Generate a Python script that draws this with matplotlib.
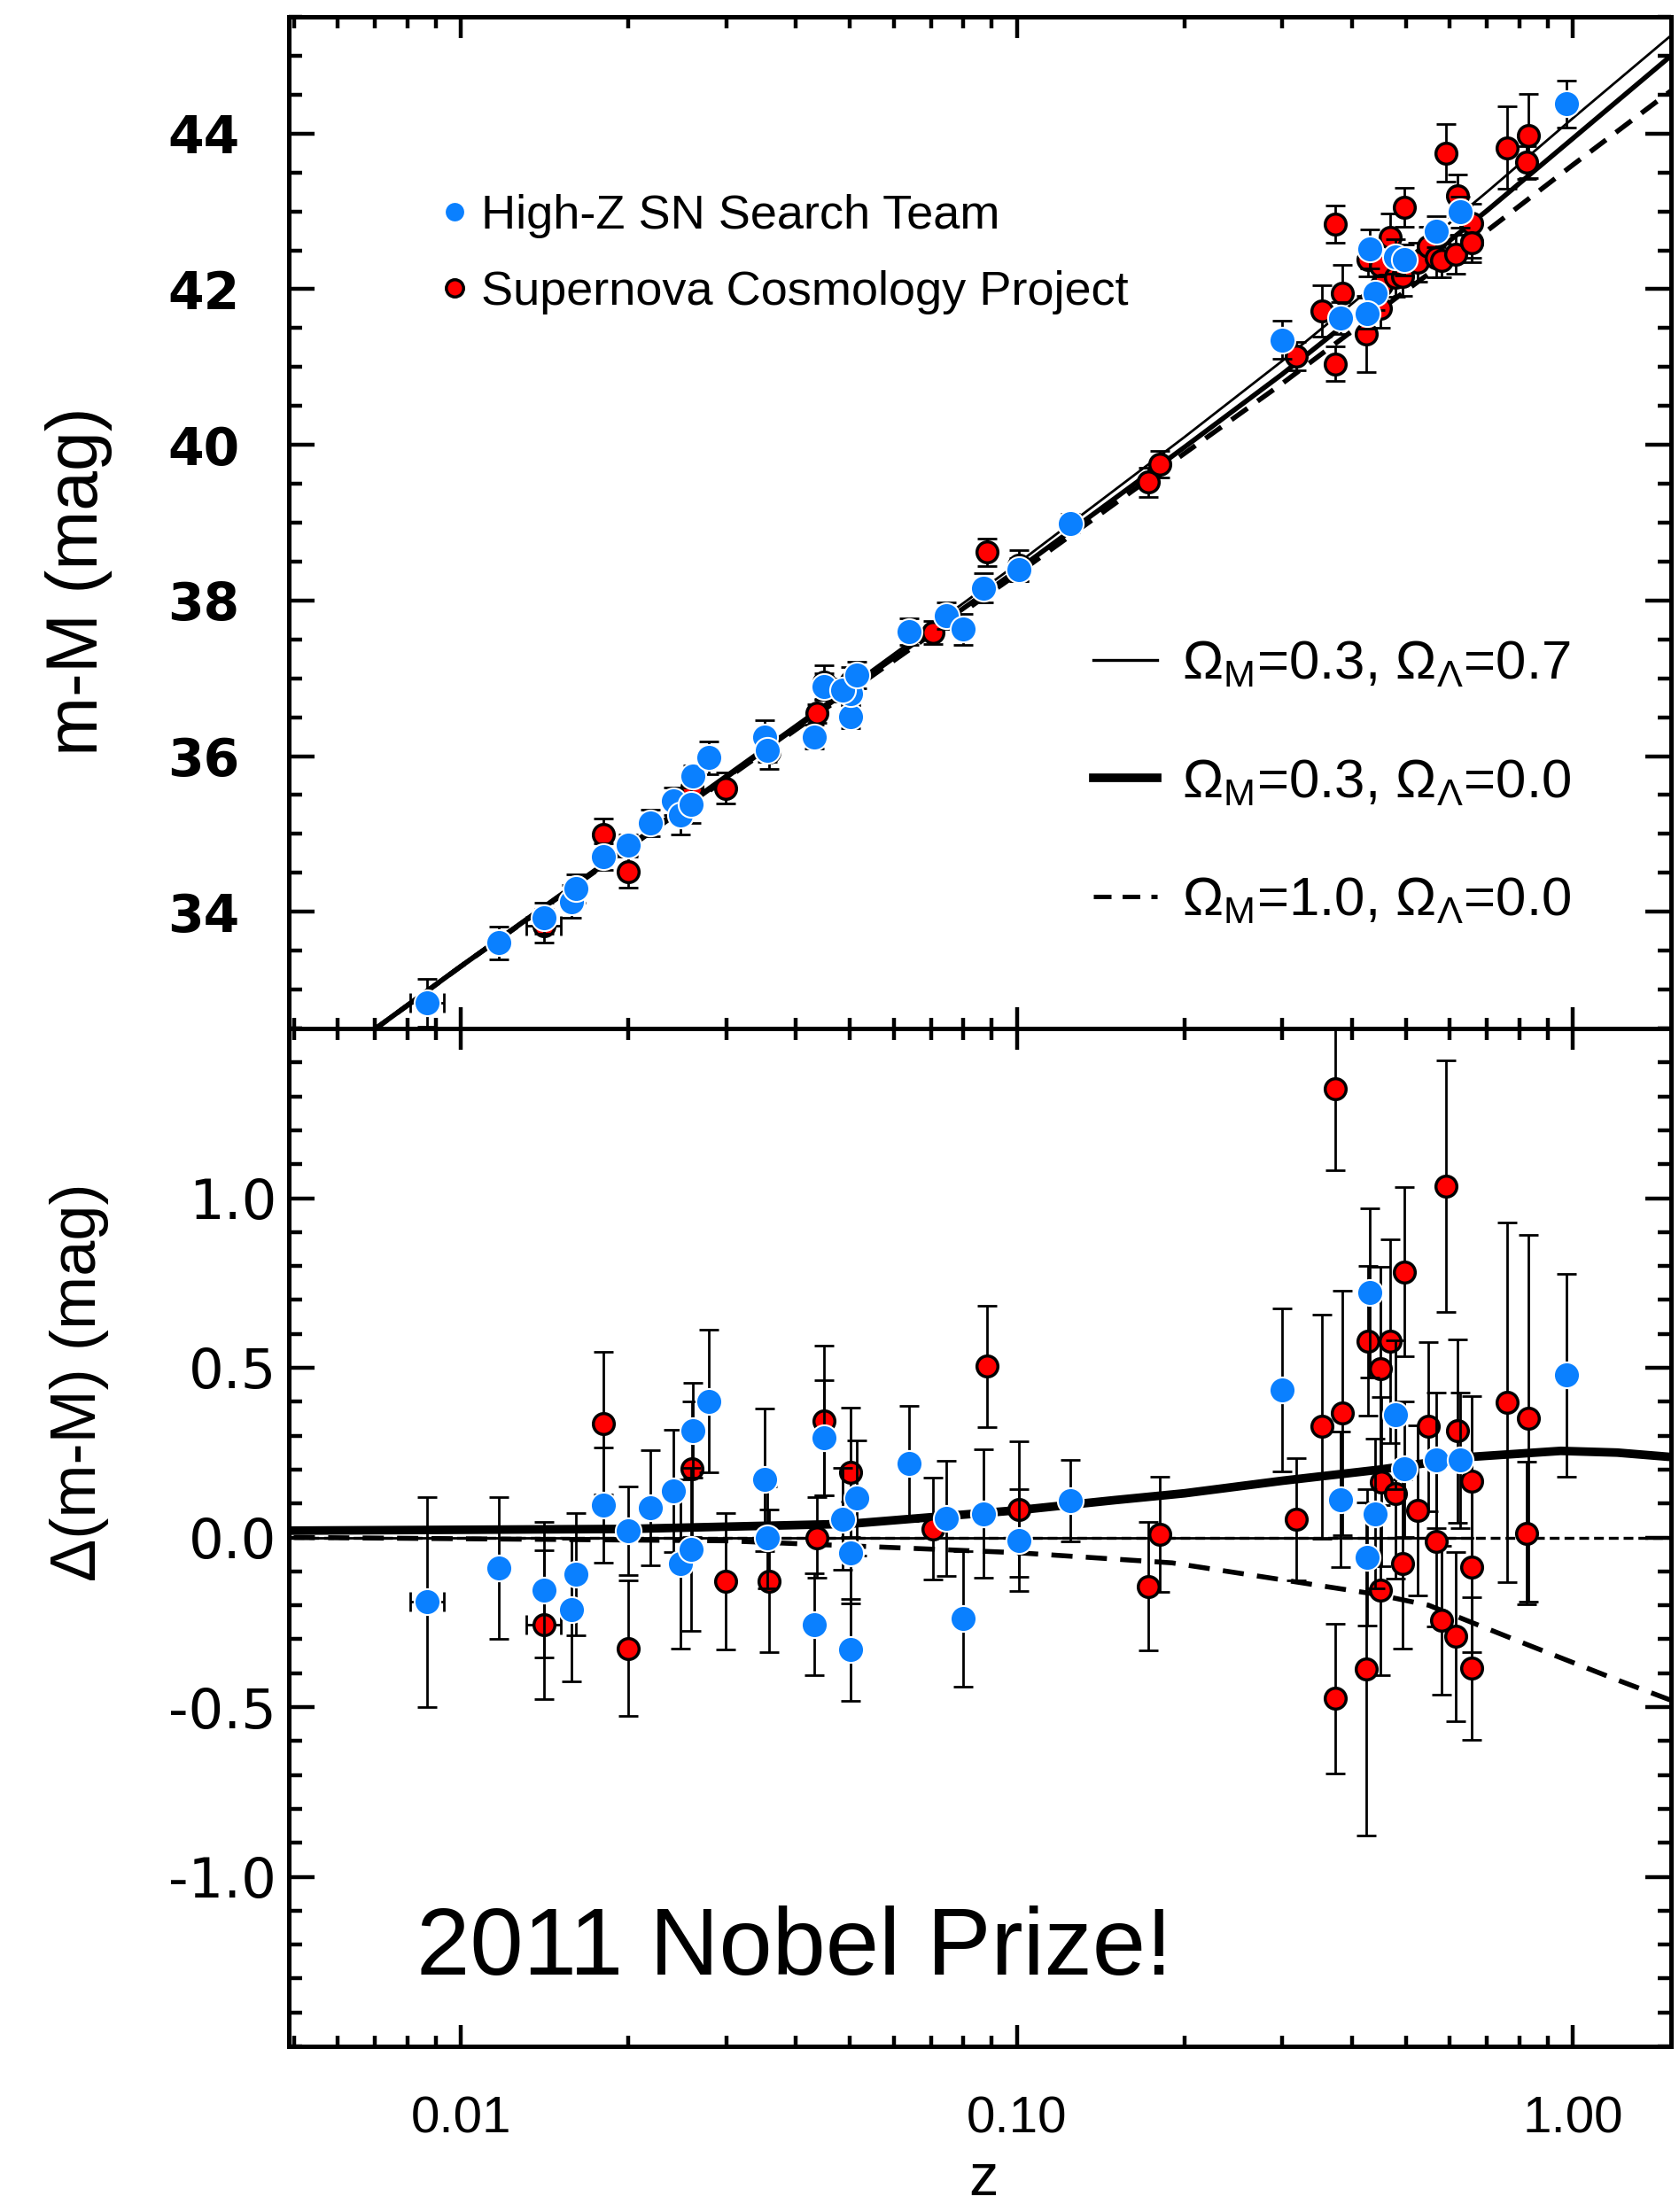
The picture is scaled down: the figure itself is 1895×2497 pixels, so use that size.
import matplotlib
matplotlib.use('Agg')
import matplotlib.pyplot as plt
from matplotlib.lines import Line2D
from matplotlib.ticker import FixedLocator, MultipleLocator, FixedFormatter, NullFormatter, FormatStrFormatter
import numpy as np

plt.rcParams['font.family'] = ['Liberation Sans', 'DejaVu Sans']
plt.rcParams['mathtext.fontset'] = 'custom'
plt.rcParams['mathtext.rm'] = 'Liberation Sans'
plt.rcParams['mathtext.it'] = 'Liberation Sans:italic'
plt.rcParams['axes.unicode_minus'] = False

# ---------------- data: High-Z SN Search Team ----------------
hz_z = [0.0087, 0.0117, 0.0141, 0.0158, 0.0161, 0.0180, 0.0200, 0.0219, 0.0241, 0.0248,
        0.0259, 0.0261, 0.0279, 0.0352, 0.0355, 0.0432, 0.0449, 0.0501, 0.0501, 0.0486,
        0.0514, 0.0640, 0.0745, 0.0799, 0.0871, 0.1009, 0.1245, 0.300, 0.382, 0.4304,
        0.440, 0.4256, 0.479, 0.497, 0.568, 0.627, 0.972]
hz_mu = [32.83, 33.60, 33.92, 34.13, 34.30, 34.71, 34.86, 35.14, 35.42, 35.24,
         35.38, 35.74, 35.98, 36.25, 36.08, 36.25, 36.89, 36.51, 36.80, 36.85,
         37.04, 37.60, 37.80, 37.63, 38.16, 38.40, 38.99, 41.35, 41.63, 42.52,
         41.95, 41.69, 42.42, 42.38, 42.74, 42.99, 44.38]
hz_dmu = [-0.19, -0.09, -0.155, -0.213, -0.109, 0.096, 0.019, 0.087, 0.137, -0.078,
          -0.035, 0.315, 0.401, 0.170, 0.000, -0.257, 0.294, -0.331, -0.045, 0.054,
          0.116, 0.218, 0.057, -0.240, 0.070, -0.009, 0.109, 0.434, 0.112, 0.721,
          0.070, -0.059, 0.362, 0.202, 0.228, 0.228, 0.478]
hz_err = [0.31, 0.21, 0.20, 0.21, 0.18, 0.17, 0.13, 0.17, 0.18, 0.25,
          0.24, 0.14, 0.21, 0.21, 0.15, 0.15, 0.17, 0.15, 0.15, 0.15,
          0.17, 0.17, 0.17, 0.20, 0.19, 0.15, 0.12, 0.24, 0.20, 0.25,
          0.22, 0.20, 0.22, 0.20, 0.20, 0.20, 0.30]
hz_zerr = [0.0006] + [0.0] * 36

# ---------------- data: Supernova Cosmology Project ----------------
scp_z = [0.0141, 0.0180, 0.0200, 0.0260, 0.0299, 0.0358, 0.0436, 0.0449, 0.0501, 0.0706,
         0.0882, 0.1009, 0.1719, 0.1805, 0.318, 0.353, 0.373, 0.373, 0.385, 0.424,
         0.428, 0.4506, 0.4506, 0.452, 0.468, 0.480, 0.494, 0.498, 0.525, 0.549,
         0.568, 0.579, 0.591, 0.614, 0.619, 0.656, 0.658, 0.658, 0.762, 0.830, 0.8245]
scp_mu = [33.82, 34.99, 34.51, 35.60, 35.59, 36.05, 36.55, 36.95, 36.95, 37.59,
          38.62, 38.45, 39.52, 39.75, 41.14, 41.72, 42.84, 41.04, 41.95, 41.42,
          42.38, 41.75, 42.30, 42.05, 42.67, 42.15, 42.16, 43.05, 42.35, 42.55,
          42.40, 42.37, 43.75, 42.45, 43.20, 42.61, 42.85, 42.60, 43.82, 43.97, 43.63]
scp_dmu = [-0.257, 0.336, -0.327, 0.202, -0.129, -0.129, 0.000, 0.344, 0.192, 0.026,
           0.504, 0.083, -0.144, 0.009, 0.054, 0.327, 1.322, -0.475, 0.366, -0.388,
           0.579, -0.155, 0.497, 0.164, 0.579, 0.129, -0.078, 0.783, 0.080, 0.327,
           -0.013, -0.244, 1.035, -0.292, 0.314, -0.386, 0.167, -0.087, 0.397, 0.351, 0.013]
scp_err = [0.22, 0.21, 0.20, 0.20, 0.20, 0.21, 0.12, 0.22, 0.19, 0.15,
           0.18, 0.20, 0.19, 0.17, 0.18, 0.33, 0.24, 0.22, 0.36, 0.49,
           0.22, 0.25, 0.30, 0.25, 0.30, 0.25, 0.25, 0.25, 0.25, 0.25,
           0.25, 0.22, 0.37, 0.25, 0.27, 0.21, 0.25, 0.25, 0.53, 0.54, 0.21]
scp_zerr = [0.0010] + [0.0] * 40

# ---------------- model curves ----------------
model_z = [0.005, 0.01, 0.02, 0.05, 0.1, 0.2, 0.3, 0.5, 0.7, 1.0, 1.5]
mu_m03_l07 = [31.75, 33.32, 34.86, 36.90, 38.47, 40.10, 41.08, 42.38, 43.25, 44.20, 45.26]
mu_m03_l00 = [31.73, 33.30, 34.83, 36.86, 38.39, 39.97, 40.91, 42.17, 43.01, 43.94, 45.00]
mu_m10_l00 = [31.73, 33.30, 34.82, 36.83, 38.34, 39.89, 40.79, 41.98, 42.75, 43.60, 44.55]

res_z_l = [0.005, 0.02, 0.05, 0.1, 0.15, 0.2, 0.3, 0.45, 0.65, 0.95, 1.2, 1.5]
res_l07 = [0.02, 0.025, 0.04, 0.08, 0.11, 0.13, 0.167, 0.20, 0.237, 0.255, 0.25, 0.237]
res_z_d = [0.005, 0.03, 0.06, 0.1, 0.19, 0.3, 0.44, 0.55, 0.83, 1.2, 1.5]
res_m10 = [0.0, -0.01, -0.03, -0.045, -0.075, -0.125, -0.167, -0.2, -0.317, -0.42, -0.48]
zero_solid_z = [0.005, 0.66]
zero_dot_z = [0.005, 1.5]
zero_val = [0.0, 0.0]

# tick labels
xtick_vals = [0.01, 0.1, 1.0]
xtick_labels = ['0.01', '0.10', '1.00']
top_yticks = [34, 36, 38, 40, 42, 44]
bot_yticks = [-1.0, -0.5, 0.0, 0.5, 1.0]

BLUE = '#0A80FF'
RED = '#FF0000'

fig = plt.figure(figsize=(18.95, 24.97), dpi=100)
L, W = 326 / 1895, 1560 / 1895
ax_top = fig.add_axes([L, 1 - 1161 / 2497, W, 1142 / 2497])
ax_bot = fig.add_axes([L, 1 - 2310 / 2497, W, 1149 / 2497])

def style(ax):
    ax.set_xscale('log')
    ax.set_xlim(0.0049, 1.5)
    for s in ax.spines.values():
        s.set_linewidth(3.6)
    ax.tick_params(which='both', direction='in', top=True, right=True, width=3.2)
    ax.tick_params(axis='x', which='major', length=17)
    ax.tick_params(axis='x', which='minor', length=9)
    ax.tick_params(axis='y', which='major', length=21)
    ax.tick_params(axis='y', which='minor', length=11)
    ax.xaxis.set_major_locator(FixedLocator(xtick_vals))
    ax.xaxis.set_minor_locator(FixedLocator(
        [m * 10.0 ** e for e in (-3, -2, -1, 0) for m in range(2, 10)]))
    ax.xaxis.set_minor_formatter(NullFormatter())

def draw_points(ax, z, y, err, zerr, face, edge, ms, mew, zo):
    z = np.asarray(z); y = np.asarray(y); err = np.asarray(err); zerr = np.asarray(zerr)
    ax.errorbar(z, y, yerr=err, fmt='none', ecolor='black', elinewidth=2.0,
                capsize=8, capthick=2.0, zorder=zo)
    m = zerr > 0
    if m.any():
        ax.errorbar(z[m], y[m], xerr=zerr[m], fmt='none', ecolor='black',
                    elinewidth=2.0, capsize=8, capthick=2.0, zorder=zo)
    ax.plot(z, y, 'o', ls='none', ms=ms, mfc=face, mec=edge, mew=mew, zorder=zo + 0.5)

# ---------------- top panel ----------------
style(ax_top)
ax_top.set_ylim(32.5, 45.5)
ax_top.yaxis.set_major_locator(FixedLocator(top_yticks))
ax_top.yaxis.set_minor_locator(MultipleLocator(0.5))
ax_top.yaxis.set_major_formatter(FormatStrFormatter('%d'))
ax_top.xaxis.set_major_formatter(NullFormatter())
ax_top.tick_params(axis='y', labelsize=42, pad=40, labelfontfamily='DejaVu Sans')
for t in ax_top.get_yticklabels():
    t.set_fontweight('bold')

ax_top.plot(model_z, mu_m03_l07, color='black', lw=2.0, zorder=2)
ax_top.plot(model_z, mu_m03_l00, color='black', lw=4.0, zorder=2)
ax_top.plot(model_z, mu_m10_l00, color='black', lw=4.0, ls=(0, (4, 2.5)), zorder=2)

draw_points(ax_top, scp_z, scp_mu, scp_err, scp_zerr, RED, 'black', 17, 2.5, 3)
draw_points(ax_top, hz_z, hz_mu, hz_err, hz_zerr, BLUE, 'white', 21, 1.5, 5)

h1 = [Line2D([], [], marker='o', ls='none', ms=16, mfc=BLUE, mec='white', mew=1),
      Line2D([], [], marker='o', ls='none', ms=14, mfc=RED, mec='black', mew=2.5)]
leg1 = ax_top.legend(h1, ['High-Z SN Search Team', 'Supernova Cosmology Project'],
                     loc='upper left', bbox_to_anchor=(0.106, 0.825), frameon=False,
                     fontsize=39, handlelength=0.8, handletextpad=0.15,
                     labelspacing=0.66, borderpad=0, borderaxespad=0)
ax_top.add_artist(leg1)
h2 = [Line2D([], [], color='black', lw=2.4),
      Line2D([], [], color='black', lw=7),
      Line2D([], [], color='black', lw=3.6, ls=(0, (4, 2.5)))]
ax_top.legend(h2, [r'$\Omega_{\mathrm{M}}$=0.3, $\Omega_{\Lambda}$=0.7',
                   r'$\Omega_{\mathrm{M}}$=0.3, $\Omega_{\Lambda}$=0.0',
                   r'$\Omega_{\mathrm{M}}$=1.0, $\Omega_{\Lambda}$=0.0'],
              loc='upper left', bbox_to_anchor=(0.582, 0.384), frameon=False,
              fontsize=44.5, handlelength=1.17, handletextpad=0.45,
              labelspacing=1.24, borderpad=0, borderaxespad=0)

# ---------------- bottom panel ----------------
style(ax_bot)
ax_bot.set_ylim(-1.5, 1.5)
ax_bot.yaxis.set_major_locator(FixedLocator(bot_yticks))
ax_bot.yaxis.set_minor_locator(MultipleLocator(0.1))
ax_bot.yaxis.set_major_formatter(FormatStrFormatter('%.1f'))
ax_bot.xaxis.set_major_formatter(FixedFormatter(xtick_labels))
ax_bot.tick_params(axis='y', labelsize=45, pad=10, labelfontfamily='DejaVu Sans')
ax_bot.tick_params(axis='x', labelsize=42, pad=40)

ax_bot.plot(zero_dot_z, zero_val, color='black', lw=2.4, ls=(0, (3.3, 1.7)), zorder=2)
ax_bot.plot(zero_solid_z, zero_val, color='black', lw=2.0, zorder=2)
ax_bot.plot(res_z_l, res_l07, color='black', lw=7, zorder=2)
ax_bot.plot(res_z_d, res_m10, color='black', lw=4.0, ls=(0, (4.3, 2.7)), zorder=2)

draw_points(ax_bot, scp_z, scp_dmu, scp_err, scp_zerr, RED, 'black', 17, 2.5, 3)
draw_points(ax_bot, hz_z, hz_dmu, hz_err, hz_zerr, BLUE, 'white', 21, 1.5, 5)

ax_bot.text(0.0923, 0.0705, '2011 Nobel Prize!', transform=ax_bot.transAxes,
            fontsize=78, ha='left', va='baseline', color='black')

fig.text(0.047, 0.7373, 'm-M (mag)', rotation=90, ha='center', va='center', fontsize=58)
fig.text(0.047, 0.3752, '\u0394(m-M) (mag)', rotation=90, ha='center', va='center', fontsize=52)
fig.text(0.5857, 0.0075, 'z', ha='center', va='baseline', fontsize=48)

fig.savefig('out.png', dpi=100)
